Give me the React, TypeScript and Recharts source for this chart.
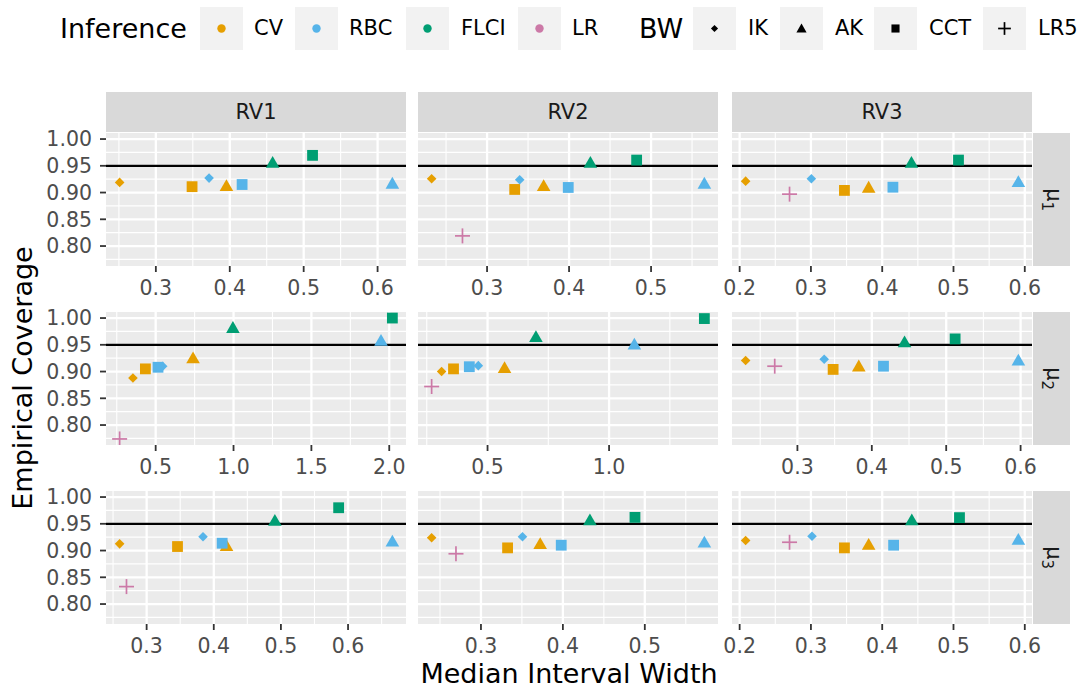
import React from "react";
import { ScatterChart, Scatter, XAxis, YAxis, ReferenceLine } from "recharts";

// one entry per (inference, bandwidth) combination, same order in every panel array
const inference = ["CV", "CV", "CV", "RBC", "RBC", "RBC", "FLCI", "FLCI", "LR"];
const bandwidth = ["IK", "AK", "CCT", "IK", "AK", "CCT", "AK", "CCT", "LR5"];

const inferenceLevels = ["CV", "RBC", "FLCI", "LR"];
const bwLevels = ["IK", "AK", "CCT", "LR5"];
const columnLabels = ["RV1", "RV2", "RV3"];
const rowSubscripts = ["1", "2", "3"];

// median interval width / empirical coverage, per panel (row = mu, column = RV)
const rv1mu1Width = [0.251, 0.3955, 0.349, 0.372, 0.62, 0.4167, 0.458, 0.512, null];
const rv1mu1Cov = [0.919, 0.9125, 0.911, 0.927, 0.917, 0.915, 0.956, 0.9695, null];
const rv2mu1Width = [0.2324, 0.369, 0.3337, 0.3398, 0.565, 0.399, 0.426, 0.4824, 0.27];
const rv2mu1Cov = [0.9257, 0.9125, 0.9058, 0.9238, 0.917, 0.9095, 0.956, 0.9607, 0.819];
const rv3mu1Width = [0.2084, 0.381, 0.347, 0.3006, 0.591, 0.415, 0.441, 0.507, 0.27];
const rv3mu1Cov = [0.9213, 0.9095, 0.904, 0.9257, 0.92, 0.91, 0.956, 0.9607, 0.897];

const rv1mu2Width = [0.354, 0.74, 0.434, 0.545, 1.947, 0.515, 0.996, 2.02, 0.2686];
const rv1mu2Cov = [0.888, 0.925, 0.905, 0.91, 0.958, 0.908, 0.982, 1.0, 0.774];
const rv2mu2Width = [0.311, 0.57, 0.36, 0.462, 1.104, 0.425, 0.699, 1.392, 0.27];
const rv2mu2Cov = [0.9, 0.907, 0.905, 0.911, 0.951, 0.909, 0.965, 0.999, 0.872];
const rv3mu2Width = [0.2304, 0.3825, 0.348, 0.336, 0.597, 0.4157, 0.444, 0.512, 0.2695];
const rv3mu2Cov = [0.9206, 0.91, 0.904, 0.923, 0.921, 0.91, 0.955, 0.961, 0.91];

const rv1mu3Width = [0.2598, 0.419, 0.346, 0.384, 0.666, 0.4125, 0.491, 0.586, 0.27];
const rv1mu3Cov = [0.9125, 0.909, 0.9075, 0.9257, 0.9174, 0.9137, 0.956, 0.98, 0.8326];
const rv2mu3Width = [0.2398, 0.3723, 0.3325, 0.3507, 0.5727, 0.398, 0.433, 0.488, 0.2695];
const rv2mu3Cov = [0.9238, 0.9125, 0.905, 0.9257, 0.9155, 0.91, 0.957, 0.962, 0.894];
const rv3mu3Width = [0.2084, 0.381, 0.347, 0.3015, 0.591, 0.416, 0.4415, 0.5084, 0.27];
const rv3mu3Cov = [0.9187, 0.911, 0.905, 0.9268, 0.9205, 0.91, 0.957, 0.9615, 0.9155];

// x tick labels per panel
const ticksA = [0.3, 0.4, 0.5, 0.6];
const ticksB = [0.3, 0.4, 0.5];
const ticksC = [0.2, 0.3, 0.4, 0.5, 0.6];
const ticksWide1 = [0.5, 1.0, 1.5, 2.0];
const ticksWide2 = [0.5, 1.0];

const yTicks = [0.8, 0.85, 0.9, 0.95, 1.0];
const nominal = 0.95;

const colors: Record<string, string> = {
  CV: "#E69F00",
  RBC: "#56B4E9",
  FLCI: "#009E73",
  LR: "#CC79A7",
};

const FONT = "'DejaVu Sans', sans-serif";
const COLS = [106, 418, 732];
const ROWS = [133, 312, 491];
const PW = 300;
const PH = 133;
const XAXIS_H = 36;
const PAD_X = 24;
const PAD_TOP = 14;

const panels = [
  { w: rv1mu1Width, c: rv1mu1Cov, ticks: ticksA },
  { w: rv2mu1Width, c: rv2mu1Cov, ticks: ticksB },
  { w: rv3mu1Width, c: rv3mu1Cov, ticks: ticksC },
  { w: rv1mu2Width, c: rv1mu2Cov, ticks: ticksWide1 },
  { w: rv2mu2Width, c: rv2mu2Cov, ticks: ticksWide2 },
  { w: rv3mu2Width, c: rv3mu2Cov, ticks: ticksA },
  { w: rv1mu3Width, c: rv1mu3Cov, ticks: ticksA },
  { w: rv2mu3Width, c: rv2mu3Cov, ticks: ticksB },
  { w: rv3mu3Width, c: rv3mu3Cov, ticks: ticksC },
];

const allCov = panels.flatMap((p) => p.c.filter((v) => v != null) as number[]);
const yLo = Math.min(...allCov);
const yHi = Math.max(...allCov);
const yDomain = [yLo - (yHi - yLo) * 0.05, yHi + (yHi - yLo) * 0.05];

function minorOf(ticks: number[], domain: number[]) {
  const step = ticks[1] - ticks[0];
  const out: number[] = [];
  for (let v = ticks[0] - step / 2; v <= ticks[ticks.length - 1] + step / 2 + 1e-9; v += step) {
    if (v >= domain[0] && v <= domain[1]) out.push(v);
  }
  return out;
}

function Glyph({ cx, cy, bw, fill, scale = 1 }: { cx: number; cy: number; bw: string; fill: string; scale?: number }) {
  if (bw === "IK") {
    const h = 4.8 * scale;
    return <polygon points={`${cx},${cy - h} ${cx + h},${cy} ${cx},${cy + h} ${cx - h},${cy}`} fill={fill} />;
  }
  if (bw === "AK") {
    const hw = 6.8 * scale;
    return (
      <polygon
        points={`${cx},${cy - 6.6 * scale} ${cx + hw},${cy + 5.2 * scale} ${cx - hw},${cy + 5.2 * scale}`}
        fill={fill}
      />
    );
  }
  if (bw === "CCT") {
    const h = 5.4 * scale;
    return <rect x={cx - h} y={cy - h} width={2 * h} height={2 * h} fill={fill} />;
  }
  const h = 7.5 * scale;
  return (
    <g stroke={fill} strokeWidth={1.7}>
      <line x1={cx - h} y1={cy} x2={cx + h} y2={cy} />
      <line x1={cx} y1={cy - h} x2={cx} y2={cy + h} />
    </g>
  );
}

function Panel({ idx }: { idx: number }) {
  const { w, c, ticks } = panels[idx];
  const col = idx % 3;
  const row = Math.floor(idx / 3);
  const xs = w.filter((v) => v != null) as number[];
  const lo = Math.min(...xs);
  const hi = Math.max(...xs);
  const xDomain = [lo - (hi - lo) * 0.05, hi + (hi - lo) * 0.05];
  const xMinor = minorOf(ticks, xDomain);
  const yMinor = minorOf(yTicks, yDomain);
  const showY = col === 0;
  const yW = showY ? 100 : 0;
  const padL = showY ? 0 : PAD_X;

  return (
    <>
      <div
        style={{
          position: "absolute",
          left: COLS[col],
          top: ROWS[row],
          width: PW,
          height: PH,
          background: "#EBEBEB",
        }}
      />
      <div style={{ position: "absolute", left: COLS[col] - yW - padL, top: ROWS[row] - PAD_TOP }}>
        <ScatterChart
          width={PW + yW + padL + PAD_X}
          height={PH + XAXIS_H + PAD_TOP}
          margin={{ top: PAD_TOP, right: PAD_X, bottom: 0, left: padL }}
        >
          <XAxis
            type="number"
            dataKey="x"
            domain={xDomain}
            ticks={ticks}
            interval={0}
            allowDataOverflow
            axisLine={false}
            tickLine={{ stroke: "#333333", strokeWidth: 1.8 }}
            tickSize={6}
            tickMargin={8}
            tick={{ fontSize: 20.5, fill: "#4D4D4D" }}
            tickFormatter={(v: number) => v.toFixed(1)}
            height={XAXIS_H}
          />
          <YAxis
            type="number"
            dataKey="y"
            domain={yDomain}
            ticks={yTicks}
            interval={0}
            allowDataOverflow
            hide={!showY}
            width={yW}
            axisLine={false}
            tickLine={{ stroke: "#333333", strokeWidth: 1.8 }}
            tickSize={6}
            tickMargin={8}
            tick={{ fontSize: 20.5, fill: "#4D4D4D" }}
            tickFormatter={(v: number) => v.toFixed(2)}
          />
          {yMinor.map((v) => (
            <ReferenceLine key={`ym${v}`} y={v} stroke="#FFFFFF" strokeWidth={1.1} />
          ))}
          {xMinor.map((v) => (
            <ReferenceLine key={`xm${v}`} x={v} stroke="#FFFFFF" strokeWidth={1.1} />
          ))}
          {yTicks.map((v) => (
            <ReferenceLine key={`yM${v}`} y={v} stroke="#FFFFFF" strokeWidth={2.3} />
          ))}
          {ticks.map((v) => (
            <ReferenceLine key={`xM${v}`} x={v} stroke="#FFFFFF" strokeWidth={2.3} />
          ))}
          <ReferenceLine y={nominal} stroke="#000000" strokeWidth={2.3} />
          {inference.map((inf, i) =>
            w[i] == null ? null : (
              <Scatter
                key={`${inf}-${bandwidth[i]}`}
                data={[{ x: w[i], y: c[i] }]}
                isAnimationActive={false}
                shape={(p: any) => <Glyph cx={p.cx} cy={p.cy} bw={bandwidth[i]} fill={colors[inf]} />}
              />
            )
          )}
        </ScatterChart>
      </div>
    </>
  );
}

function LegendKey({ left, children }: { left: number; children: React.ReactNode }) {
  return (
    <div style={{ position: "absolute", left, top: 7, width: 43, height: 43, background: "#F2F2F2" }}>
      <svg width={43} height={43}>{children}</svg>
    </div>
  );
}

function LegendText({ left, text, size = 21 }: { left: number; text: string; size?: number }) {
  return (
    <div
      style={{
        position: "absolute",
        left,
        top: 28,
        transform: "translateY(-50%)",
        fontSize: size,
        color: "#000000",
        whiteSpace: "nowrap",
        lineHeight: 1,
      }}
    >
      {text}
    </div>
  );
}

export default function App() {
  const infKeys = [200, 295, 406, 518];
  const infLabels = [254, 349, 461, 572];
  const bwKeys = [693, 780, 874, 983];
  const bwLabels = [748, 835, 929, 1038];

  return (
    <div
      style={{
        position: "absolute",
        left: 0,
        top: 0,
        width: 1084,
        height: 690,
        background: "#FFFFFF",
        fontFamily: FONT,
        overflow: "hidden",
      }}
    >
      {/* legend */}
      <LegendText left={60} text="Inference" size={27} />
      {inferenceLevels.map((lv, i) => (
        <React.Fragment key={lv}>
          <LegendKey left={infKeys[i]}>
            <circle cx={21.5} cy={21.5} r={4.2} fill={colors[lv]} />
          </LegendKey>
          <LegendText left={infLabels[i]} text={lv} />
        </React.Fragment>
      ))}
      <LegendText left={639} text="BW" size={27} />
      {bwLevels.map((lv, i) => (
        <React.Fragment key={lv}>
          <LegendKey left={bwKeys[i]}>
            <Glyph cx={21.5} cy={21.5} bw={lv} fill="#000000" scale={lv === "LR5" ? 0.85 : 0.75} />
          </LegendKey>
          <LegendText left={bwLabels[i]} text={lv} />
        </React.Fragment>
      ))}

      {/* column strips */}
      {columnLabels.map((lb, i) => (
        <div
          key={lb}
          style={{
            position: "absolute",
            left: COLS[i],
            top: 92,
            width: PW,
            height: 40,
            background: "#D9D9D9",
            color: "#1A1A1A",
            fontSize: 21,
            display: "flex",
            alignItems: "center",
            justifyContent: "center",
          }}
        >
          {lb}
        </div>
      ))}

      {/* row strips */}
      {rowSubscripts.map((s, i) => (
        <div
          key={s}
          style={{
            position: "absolute",
            left: 1033,
            top: ROWS[i],
            width: 37,
            height: PH,
            background: "#D9D9D9",
            color: "#1A1A1A",
            display: "flex",
            alignItems: "center",
            justifyContent: "center",
          }}
        >
          <div style={{ transform: "rotate(90deg)", fontSize: 21, whiteSpace: "nowrap", lineHeight: 1 }}>
            μ<sub style={{ fontSize: 15 }}>{s}</sub>
          </div>
        </div>
      ))}

      {panels.map((_, i) => (
        <Panel key={i} idx={i} />
      ))}

      {/* axis titles */}
      <div
        style={{
          position: "absolute",
          left: 22,
          top: 378,
          transform: "translate(-50%, -50%) rotate(-90deg)",
          fontSize: 27,
          whiteSpace: "nowrap",
          lineHeight: 1,
        }}
      >
        Empirical Coverage
      </div>
      <div
        style={{
          position: "absolute",
          left: 569,
          top: 673,
          transform: "translate(-50%, -50%)",
          fontSize: 27,
          whiteSpace: "nowrap",
          lineHeight: 1,
        }}
      >
        Median Interval Width
      </div>
    </div>
  );
}
